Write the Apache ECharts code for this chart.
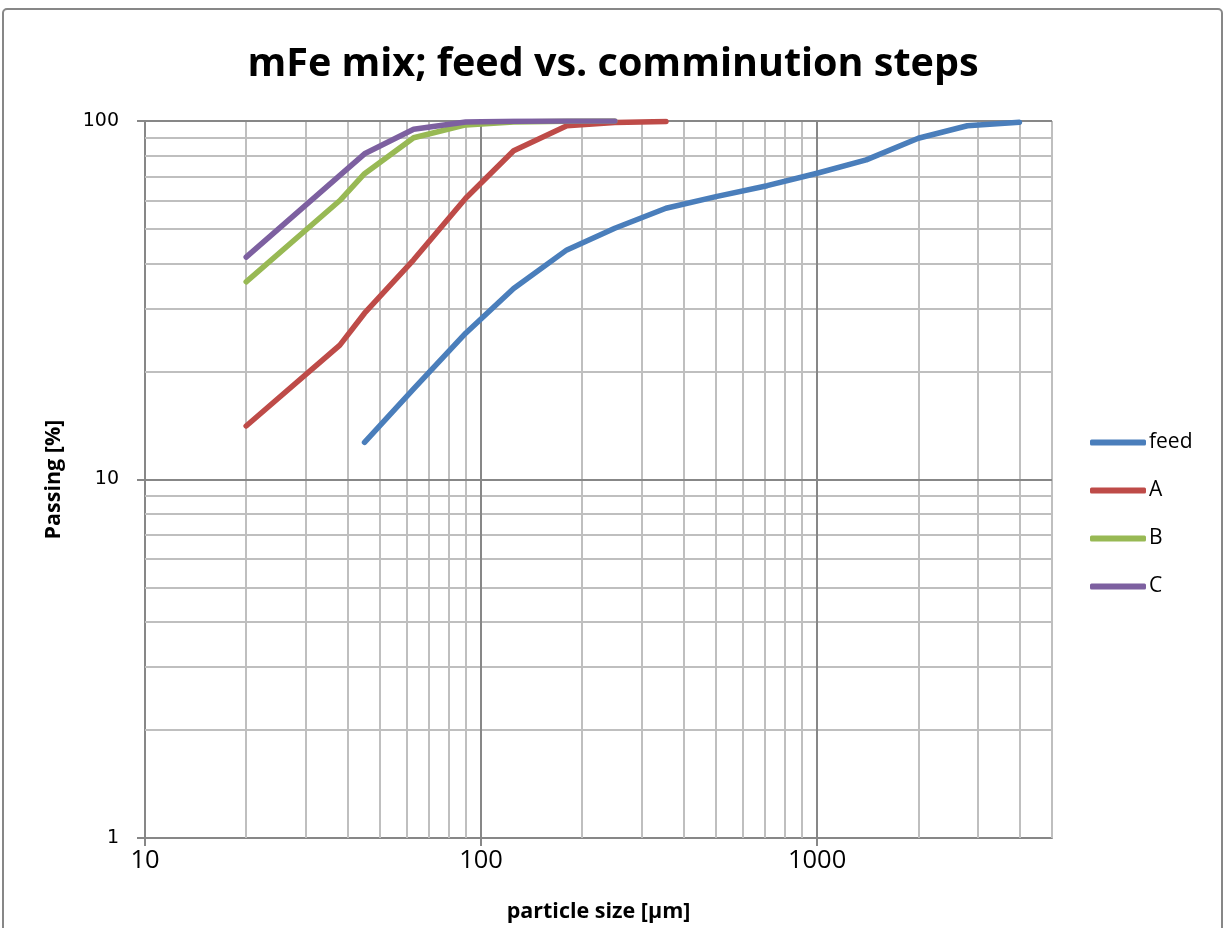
<!DOCTYPE html>
<html>
<head>
<meta charset="utf-8">
<script src="https://cdn.jsdelivr.net/npm/echarts@6/dist/echarts.min.js"></script>
<style>
html,body{margin:0;padding:0;background:#fff;}
#chart{width:1226px;height:928px;}
</style>
</head>
<body>
<div id="chart"></div>
<script>
// ---- data ----
const feedSize = [45, 63, 90, 125, 180, 250, 355, 500, 710, 1000, 1400, 2000, 2800, 4000];
const feedPass = [12.7, 17.9, 25.6, 34.1, 43.7, 50.2, 57.1, 61.5, 66.0, 71.5, 77.9, 89.5, 97.0, 99.2];

const sizeA = [20, 38, 45, 63, 90, 125, 180, 250, 355];
const passA = [14.1, 23.7, 29.1, 41.0, 60.9, 82.6, 97.0, 99.0, 99.6];

const sizeB = [20, 38, 45, 63, 90, 125, 180, 250];
const passB = [35.6, 60.0, 71.3, 89.8, 97.5, 99.3, 99.8, 100];

const sizeC = [20, 38, 45, 63, 90, 125, 180, 250];
const passC = [41.7, 70.5, 81.0, 94.8, 99.3, 99.8, 100, 100];

const seriesNames = ['feed', 'A', 'B', 'C'];

// gridline values (log axes)
const minorX = [20, 30, 40, 50, 60, 70, 80, 90, 200, 300, 400, 500, 600, 700, 800, 900, 2000, 3000, 4000, 5000];
const majorX = [100, 1000];
const minorY = [2, 3, 4, 5, 6, 7, 8, 9, 20, 30, 40, 50, 60, 70, 80, 90];
const majorY = [10, 100];

const zip = (xs, ys) => xs.map((x, i) => [x, ys[i]]);

const colors = ['#4A7EBB', '#BE4B48', '#98B954', '#7D60A0'];
const minorStyle = { color: '#BFBFBF', width: 2, type: 'solid' };
const majorStyle = { color: '#878787', width: 2, type: 'solid' };

const gridLines = []
  .concat(minorX.map(v => ({ xAxis: v, lineStyle: minorStyle })))
  .concat(minorY.map(v => ({ yAxis: v, lineStyle: minorStyle })))
  .concat(majorX.map(v => ({ xAxis: v, lineStyle: majorStyle })))
  .concat(majorY.map(v => ({ yAxis: v, lineStyle: majorStyle })));

const dataSets = [zip(feedSize, feedPass), zip(sizeA, passA), zip(sizeB, passB), zip(sizeC, passC)];

const chart = echarts.init(document.getElementById('chart'), null, { renderer: 'canvas' });

const series = [{
  name: '__grid',
  type: 'line',
  data: [],
  silent: true,
  z: 1,
  markLine: {
    silent: true,
    z: 1,
    symbol: ['none', 'none'],
    animation: false,
    label: { show: false },
    emphasis: { disabled: true },
    data: gridLines
  }
}].concat(dataSets.map((d, i) => ({
  name: seriesNames[i],
  type: 'line',
  data: d,
  z: 3,
  showSymbol: false,
  symbol: 'none',
  smooth: false,
  lineStyle: { color: colors[i], width: 5.5, cap: 'round', join: 'round' },
  itemStyle: { color: colors[i] },
  animation: false
})));

chart.setOption({
  backgroundColor: '#ffffff',
  animation: false,
  title: {
    text: 'mFe mix; feed vs. comminution steps',
    left: 'center',
    top: 45,
    padding: 0,
    textStyle: { fontFamily: 'Open Sans', fontWeight: 'bold', fontSize: 39.5, color: '#000' }
  },
  graphic: [{
    type: 'rect',
    silent: true,
    shape: { x: 3, y: 9, width: 1219, height: 960, r: 4 },
    style: { fill: 'none', stroke: '#878787', lineWidth: 2 },
    z: -1
  }],
  legend: {
    orient: 'vertical',
    left: 1085,
    top: 427,
    icon: 'roundRect',
    itemWidth: 56,
    itemHeight: 6,
    itemGap: 27,
    data: seriesNames,
    textStyle: { fontFamily: 'Open Sans', fontSize: 21, color: '#000', padding: [0, 0, 0, -2] }
  },
  grid: { left: 145, right: 174, top: 121, bottom: 90, containLabel: false },
  xAxis: {
    type: 'log',
    logBase: 10,
    min: 10,
    max: 5000,
    name: 'particle size [µm]',
    nameLocation: 'middle',
    nameGap: 63,
    nameTextStyle: { fontFamily: 'Open Sans', fontWeight: 'bold', fontSize: 21.5, color: '#000' },
    axisLine: { show: true, lineStyle: { color: '#878787', width: 2 } },
    axisTick: { show: true, length: 8, lineStyle: { color: '#878787', width: 2 } },
    axisLabel: {
      fontFamily: 'Open Sans', fontSize: 25.5, color: '#000', margin: 10,
      showMaxLabel: false,
      formatter: v => String(v)
    },
    splitLine: { show: false },
    minorTick: { show: false },
    minorSplitLine: { show: false }
  },
  yAxis: {
    type: 'log',
    logBase: 10,
    min: 1,
    max: 100,
    name: 'Passing [%]',
    nameLocation: 'middle',
    nameGap: 80,
    nameTextStyle: { fontFamily: 'Open Sans', fontWeight: 'bold', fontSize: 21.5, color: '#000' },
    axisLine: { show: true, lineStyle: { color: '#878787', width: 2 } },
    axisTick: { show: true, length: 8, lineStyle: { color: '#878787', width: 2 } },
    axisLabel: { fontFamily: 'DejaVu Sans', fontSize: 19, color: '#000', margin: 26, formatter: v => String(v) },
    splitLine: { show: false },
    minorTick: { show: false },
    minorSplitLine: { show: false }
  },
  tooltip: { show: false },
  series: series
});
</script>
</body>
</html>
